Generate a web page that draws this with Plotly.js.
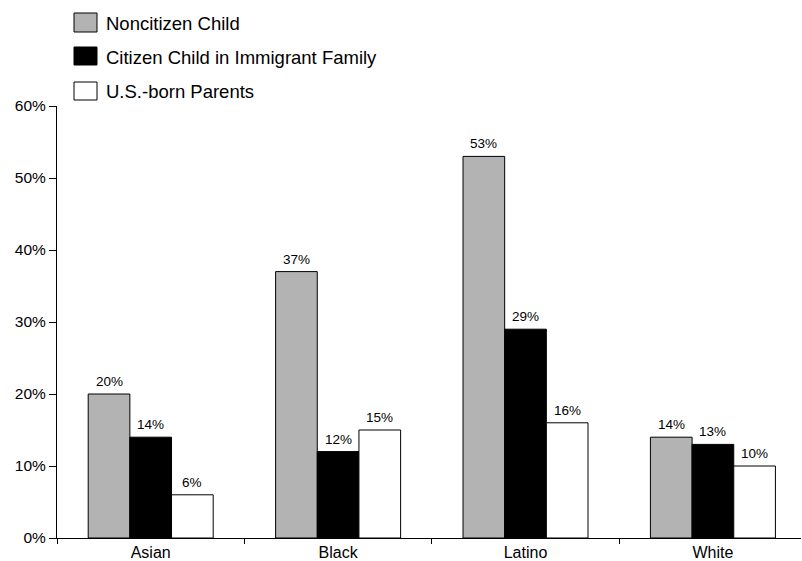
<!DOCTYPE html>
<html>
<head>
<meta charset="utf-8">
<script src="https://cdn.plot.ly/plotly-3.0.1.min.js"></script>
<style>html,body{margin:0;padding:0;background:#fff;}#chart{width:802px;height:561px;}</style>
</head>
<body>
<div id="chart"></div>
<script>
var categories = ["Asian", "Black", "Latino", "White"];
var seriesNames = ["Noncitizen Child", "Citizen Child in Immigrant Family", "U.S.-born Parents"];
var noncitizen = [20, 37, 53, 14];
var citizenImmigrant = [14, 12, 29, 13];
var usBorn = [6, 15, 16, 10];
var yTickVals = [0, 10, 20, 30, 40, 50, 60];
var yTickText = ["0%", "10%", "20%", "30%", "40%", "50%", "60%"];

var colors = ["#b3b3b3", "#000000", "#ffffff"];
var values = [noncitizen, citizenImmigrant, usBorn];
var font = "Liberation Sans, Arial, Helvetica, sans-serif";

var L = 57, R = 801, T = 106, B = 538;
var bargap = 0.333;
var catPx = (R - L) / 3.97;
var barPx = catPx * (1 - bargap) / 3;

var traces = values.map(function (v, i) {
  return {
    type: "bar",
    x: categories,
    y: v,
    name: seriesNames[i],
    marker: {color: colors[i], line: {color: "#000", width: 1}},
    showlegend: false,
    hoverinfo: "skip"
  };
});

var shapes = [], annotations = [];

// Value labels above each bar, anchored to the data coordinates
values.forEach(function (v, i) {
  v.forEach(function (val, j) {
    annotations.push({xref: "x", yref: "y", x: categories[j], y: val,
      xshift: (i - 1) * barPx, yshift: 3, yanchor: "bottom", xanchor: "center",
      showarrow: false, text: val + "%",
      font: {family: font, size: 13.5, color: "#000"}});
  });
});

// Manual legend (boxes + labels) in paper coordinates
function px2x(p) { return (p - L) / (R - L); }
function py2y(p) { return (B - p) / (B - T); }
var rows = [[13, 32], [47, 65], [82, 100]];
rows.forEach(function (r, i) {
  shapes.push({type: "rect", xref: "paper", yref: "paper",
    x0: px2x(74), x1: px2x(97), y0: py2y(r[1]), y1: py2y(r[0]),
    fillcolor: colors[i], line: {color: "#000", width: 1}});
  annotations.push({xref: "paper", yref: "paper", x: px2x(104), y: py2y((r[0] + r[1]) / 2 + 1),
    xanchor: "left", yanchor: "middle", showarrow: false, text: seriesNames[i],
    font: {family: font, size: 18.5, color: "#000"}});
});

var layout = {
  width: 802, height: 561,
  margin: {l: L, r: 802 - R, t: T, b: 561 - B},
  paper_bgcolor: "#fff", plot_bgcolor: "#fff",
  barmode: "group", bargap: bargap, bargroupgap: 0,
  font: {family: font, color: "#000"},
  xaxis: {range: [-0.5, 3.47], showline: true, linecolor: "#000", linewidth: 1,
    ticks: "outside", tickson: "boundaries", ticklen: 5, tickcolor: "#000",
    tickfont: {size: 16}, showgrid: false, zeroline: false, fixedrange: true},
  yaxis: {range: [0, 60], tickvals: yTickVals, ticktext: yTickText,
    showline: true, linecolor: "#000", linewidth: 1, ticks: "outside", ticklen: 7,
    tickcolor: "#000", tickfont: {size: 15.5}, showgrid: false, zeroline: false, fixedrange: true},
  shapes: shapes,
  annotations: annotations,
  showlegend: false
};

Plotly.newPlot("chart", traces, layout, {displayModeBar: false, staticPlot: true});
</script>
</body>
</html>
